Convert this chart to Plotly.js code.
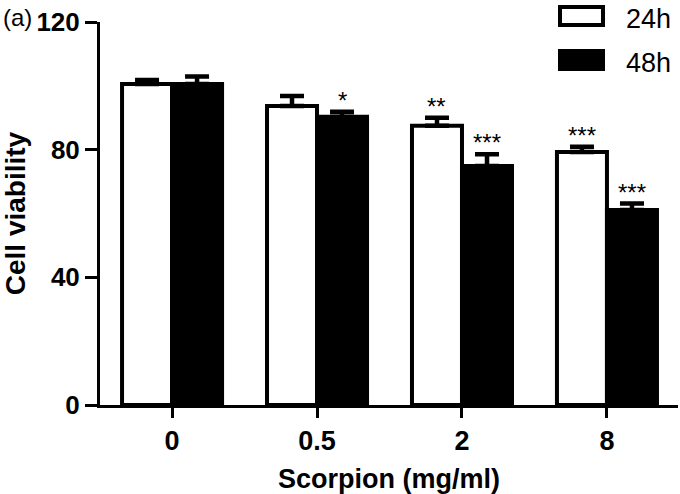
<!DOCTYPE html>
<html>
<head>
<meta charset="utf-8">
<script src="https://cdn.plot.ly/plotly-3.0.1.min.js"></script>
<style>
  body { margin: 0; background: #fff; }
  #chart { width: 680px; height: 494px; }
</style>
</head>
<body>
<div id="chart"></div>
<script>
// dosis de escorpión (eje x)
var dosis = ["0", "0.5", "2", "8"];
var nombres = ["24h", "48h"];

// viabilidad celular (%) y error (solo hacia arriba)
var viab24 = [100.6, 93.7, 87.5, 79.3];
var err24 = [1.2, 3.1, 2.5, 1.6];
var viab48 = [100.6, 90.3, 74.9, 61.1];
var err48 = [2.3, 1.6, 3.7, 2.0];

// significancia
var sig24 = ["", "", "**", "***"];
var sig48 = ["", "*", "***", "***"];

var fuente = "Liberation Sans, Arial, Helvetica, sans-serif";

// área del gráfico en píxeles (para colocar la leyenda manual)
var W = 680, H = 494;
var mg = { l: 100, r: 2, t: 22, b: 89 };
function px(x) { return (x - mg.l) / (W - mg.l - mg.r); }
function py(y) { return (H - mg.b - y) / (H - mg.t - mg.b); }

function barra(nombre, valores, errores, relleno) {
  return {
    type: "bar",
    name: nombre,
    x: dosis,
    y: valores,
    marker: { color: relleno, line: { color: "#000", width: 4 } },
    error_y: {
      type: "data",
      symmetric: false,
      array: errores,
      arrayminus: errores.map(function () { return 0; }),
      color: "#000",
      thickness: 4.5,
      width: 12
    },
    showlegend: false
  };
}

var data = [
  barra(nombres[0], viab24, err24, "#fff"),
  barra(nombres[1], viab48, err48, "#000")
];

// asteriscos sobre cada barra (x como índice de categoría)
var anotaciones = [];
dosis.forEach(function (d, i) {
  [[sig24, viab24, err24, -25], [sig48, viab48, err48, 25]].forEach(function (s) {
    if (s[0][i]) {
      anotaciones.push({
        x: i, y: s[1][i] + s[2][i], xref: "x", yref: "y",
        text: s[0][i], showarrow: false,
        xshift: s[3], yshift: -4, yanchor: "bottom",
        font: { family: fuente, size: 24, color: "#000" }
      });
    }
  });
});

// etiqueta del panel
anotaciones.push({
  x: px(1), y: py(17), xref: "paper", yref: "paper",
  xanchor: "left", yanchor: "middle", showarrow: false,
  text: "(a)", font: { family: fuente, size: 24, color: "#000" }
});

// leyenda manual
var formas = [];
var rellenos = ["#fff", "#000"];
var filas = [16, 60];
nombres.forEach(function (n, i) {
  formas.push({
    type: "rect", xref: "paper", yref: "paper",
    x0: px(560), x1: px(603), y0: py(filas[i] + 9), y1: py(filas[i] - 9),
    fillcolor: rellenos[i], line: { color: "#000", width: 4 }
  });
  anotaciones.push({
    x: px(624), y: py(filas[i] + 3), xref: "paper", yref: "paper",
    xanchor: "left", yanchor: "middle", showarrow: false,
    text: n, font: { family: fuente, size: 27, color: "#000" }
  });
});

var layout = {
  width: W,
  height: H,
  margin: mg,
  paper_bgcolor: "#fff",
  plot_bgcolor: "#fff",
  barmode: "group",
  bargap: 0.31,
  bargroupgap: 0,
  font: { family: fuente, color: "#000" },
  xaxis: {
    type: "category",
    range: [-0.497, 3.49],
    showline: true, linecolor: "#000", linewidth: 3,
    ticks: "outside", ticklen: 10, tickwidth: 3, tickcolor: "#000",
    showgrid: false, zeroline: false,
    tickfont: { family: fuente, size: 27, weight: "bold" },
    title: { text: "Scorpion (mg/ml)", standoff: 16,
             font: { family: fuente, size: 27, weight: "bold" } }
  },
  yaxis: {
    range: [0, 120],
    tickvals: [0, 40, 80, 120],
    showline: true, linecolor: "#000", linewidth: 3,
    ticks: "outside", ticklen: 12, tickwidth: 3, tickcolor: "#000",
    showgrid: false, zeroline: false,
    tickfont: { family: fuente, size: 26, weight: "bold" },
    title: { text: "Cell viability", standoff: 10,
             font: { family: fuente, size: 28, weight: "bold" } }
  },
  shapes: formas,
  annotations: anotaciones
};

Plotly.newPlot("chart", data, layout, { displayModeBar: false });
</script>
</body>
</html>
